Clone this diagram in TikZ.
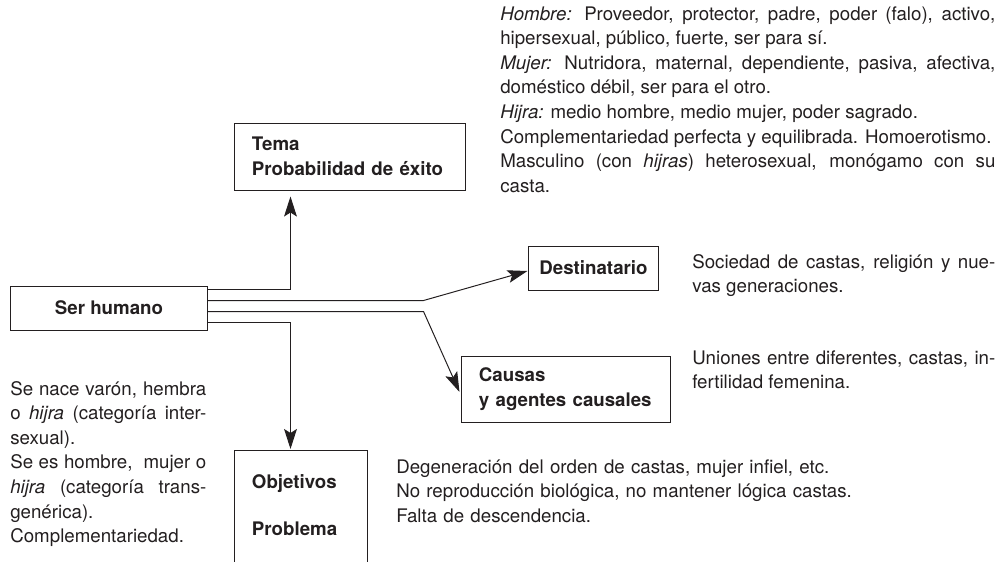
\documentclass[tikz,border=0pt]{standalone}
\usepackage{fontspec}
\setmainfont{TeX Gyre Heros}
\usepackage{xcolor}
\usepackage{tikz}
\usetikzlibrary{positioning,arrows.meta,calc}
\definecolor{ink}{HTML}{231F20}
\newcommand{\txtsize}{\fontsize{13.3}{17.5}\selectfont}
\tikzset{
  box/.style ={draw=ink, line width=0.7pt, inner sep=0pt, font=\txtsize\bfseries, text=ink},
  boxl/.style={box, align=left, inner xsep=0.425cm},
  txt/.style ={inner sep=0pt, align=justify, anchor=base west, text=ink, font=\txtsize},
  arr/.style ={-{Stealth[length=5mm, width=3.2mm, inset=1mm]}, line width=0.7pt, ink},
}

\begin{document}
\begin{tikzpicture}[x=0.025cm, y=-0.025cm, font=\txtsize]
  \useasboundingbox (0,0) rectangle (996,561);
  \clip (0,0) rectangle (996,561);

  % cajas
  \node[box, minimum width=4.9cm, minimum height=1.1cm] (ser) at (109,308) {Ser humano};
  \node[boxl, text width=4.9cm, minimum height=1.675cm] (tema) at (350,156.5) {Tema\\Probabilidad de éxito};
  \node[box, minimum width=3.225cm, minimum height=1.1cm] (dest) at (593.5,268) {Destinatario};
  \node[boxl, text width=4.35cm, minimum height=1.65cm] (causa) at (566,389) {Causas\\y agentes causales};
  \node[boxl, text width=2.45cm, inner ysep=0.6cm, text depth=1.5cm, anchor=north] (obj) at (301,450)
    {Objetivos\\[0.55cm]Problema};

  % textos
  \node[txt, text width=12.375cm] (genero) at (500,20)
    {\textit{Hombre:} Proveedor, protector, padre, poder (falo), activo,\linebreak hipersexual, público, fuerte, ser para sí.\par
     \textit{Mujer:} Nutridora, maternal, dependiente, pasiva, afectiva,\linebreak doméstico débil, ser para el otro.\par
     \textit{Hijra:} medio hombre, medio mujer, poder sagrado.\par
     Complementariedad perfecta y equilibrada. Homoerotismo.\par
     Masculino (con \textit{hijras}) heterosexual, monógamo con su\linebreak casta.};
  \node[txt, text width=7.575cm] (soc) at (692,268)
    {Sociedad de castas, religión y nue-\linebreak vas generaciones.};
  \node[txt, text width=7.575cm] (union) at (692,364)
    {Uniones entre diferentes, castas, in-\linebreak fertilidad femenina.};
  \node[txt, text width=14cm, align=left] (deg) at (396,473)
    {Degeneración del orden de castas, mujer infiel, etc.\\
     No reproducción biológica, no mantener lógica castas.\\
     Falta de descendencia.};
  \node[txt, text width=4.9cm] (nace) at (10,395)
    {Se nace varón, hembra\linebreak o \textit{hijra} (categoría inter-\linebreak sexual).\par
     Se es hombre,\ \ mujer o\linebreak \textit{hijra} (categoría trans-\linebreak genérica).\par
     Complementariedad.};

  % conectores
  \coordinate (s1) at ($(ser.north east)+(0,4)$);
  \coordinate (s2) at ($(ser.north east)+(0,15)$);
  \coordinate (s3) at ($(ser.north east)+(0,26)$);
  \coordinate (s4) at ($(ser.north east)+(0,37)$);
  \draw[arr] (s1) -| ($(tema.south west)+(56,6)$);
  \draw[arr] (s2) -- ++(216,0) -- ($(dest.west)+(-1,3)$);
  \draw[arr] (s3) -- ++(216,0) -- ($(causa.west)+(-2,3)$);
  \draw[arr] (s4) -| ($(obj.north west)+(56,-1)$);
\end{tikzpicture}
\end{document}
